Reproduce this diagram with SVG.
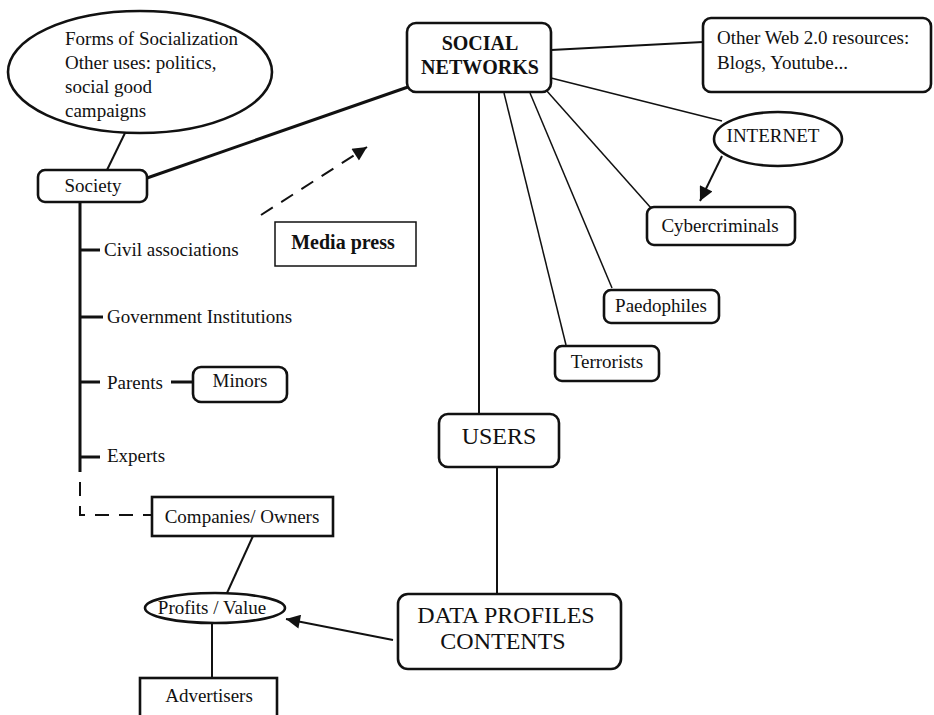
<svg xmlns="http://www.w3.org/2000/svg" width="934" height="715" viewBox="0 0 934 715">
<defs>
<style>
text{font-family:"Liberation Serif","Times New Roman",serif;font-size:19px;fill:#111}
.b{font-weight:bold;font-size:20px}
.big{font-size:24px}
.node{fill:#fff;stroke:#111;stroke-width:2.6}
.thin{fill:#fff;stroke:#111;stroke-width:1.5}
.ln{stroke:#111;stroke-width:2;fill:none}
.lt{stroke:#111;stroke-width:1.5;fill:none}
.lk{stroke:#111;stroke-width:3;fill:none}
.dash{stroke:#111;stroke-width:2;fill:none;stroke-dasharray:14 10}
</style>
<marker id="ah" viewBox="0 0 10 10" refX="10" refY="5" markerUnits="userSpaceOnUse" markerWidth="18" markerHeight="14" orient="auto">
<path d="M0,0 L10,5 L0,10 z" fill="#111"/>
</marker>
</defs>
<g id="connectors">
<line class="ln" x1="125" y1="133" x2="107" y2="170"/>
<line class="lk" x1="147" y1="178" x2="408" y2="87"/>
<line class="dash" x1="261" y1="215" x2="367" y2="147" marker-end="url(#ah)"/>
<line class="ln" x1="551" y1="50" x2="703" y2="42"/>
<line class="lt" x1="551" y1="78" x2="722" y2="121"/>
<line class="ln" x1="722" y1="156" x2="700" y2="201" marker-end="url(#ah)"/>
<line class="lt" x1="546" y1="90" x2="651" y2="208"/>
<line class="lt" x1="530" y1="93" x2="612" y2="288"/>
<line class="lt" x1="504" y1="93" x2="566" y2="345"/>
<line class="ln" x1="479" y1="93" x2="479" y2="414"/>
<line class="ln" x1="497" y1="467" x2="497" y2="594"/>
<line class="ln" x1="393" y1="640" x2="286" y2="619" marker-end="url(#ah)"/>
<line class="lk" x1="80" y1="202" x2="80" y2="472"/>
<path class="dash" d="M80,472 V515 H152" stroke-dasharray="14 10" stroke-dashoffset="-10"/>
<line class="lk" x1="80" y1="250" x2="100" y2="250"/>
<line class="lk" x1="80" y1="317" x2="103" y2="317"/>
<line class="lk" x1="80" y1="382" x2="100" y2="382"/>
<line class="lk" x1="171" y1="382" x2="193" y2="382"/>
<line class="lk" x1="80" y1="457" x2="100" y2="457"/>
<line class="ln" x1="253" y1="536" x2="227" y2="593"/>
<line class="ln" x1="212" y1="623" x2="212" y2="678"/>
</g>
<g id="forms">
<ellipse class="node" cx="140" cy="72" rx="132" ry="61"/>
<text x="65" y="45">Forms of Socialization</text>
<text x="65" y="69">Other uses: politics,</text>
<text x="65" y="93">social good</text>
<text x="65" y="117">campaigns</text>
</g>
<g id="society">
<rect class="node" x="38" y="170" width="109" height="32" rx="7"/>
<text x="93" y="192" text-anchor="middle">Society</text>
</g>
<g id="social-networks">
<rect class="node" x="407" y="23" width="144" height="69" rx="9"/>
<text class="b" x="480" y="50" text-anchor="middle">SOCIAL</text>
<text class="b" x="480" y="74" text-anchor="middle">NETWORKS</text>
</g>
<g id="other-web">
<rect class="node" x="703" y="18" width="228" height="74" rx="8"/>
<text x="717" y="44">Other Web 2.0 resources:</text>
<text x="717" y="69">Blogs, Youtube...</text>
</g>
<g id="internet">
<ellipse class="node" cx="778" cy="139" rx="64" ry="27"/>
<text x="773" y="142" text-anchor="middle">INTERNET</text>
</g>
<g id="cybercriminals">
<rect class="node" x="647" y="207" width="148" height="38" rx="7"/>
<text x="720" y="232" text-anchor="middle">Cybercriminals</text>
</g>
<g id="paedophiles">
<rect class="node" x="604" y="290" width="115" height="33" rx="7"/>
<text x="661" y="312" text-anchor="middle">Paedophiles</text>
</g>
<g id="terrorists">
<rect class="node" x="555" y="346" width="104" height="35" rx="7"/>
<text x="607" y="368" text-anchor="middle">Terrorists</text>
</g>
<g id="media-press">
<rect class="thin" x="275" y="222" width="141" height="44"/>
<text class="b" x="343" y="249" text-anchor="middle">Media press</text>
</g>
<g id="civil">
<text x="104" y="256">Civil associations</text>
</g>
<g id="government">
<text x="107" y="323">Government Institutions</text>
</g>
<g id="parents">
<text x="107" y="389">Parents</text>
</g>
<g id="minors">
<rect class="node" x="193" y="367" width="94" height="35" rx="8"/>
<text x="240" y="387" text-anchor="middle">Minors</text>
</g>
<g id="experts">
<text x="107" y="462">Experts</text>
</g>
<g id="users">
<rect class="node" x="439" y="414" width="120" height="53" rx="9"/>
<text class="big" x="499" y="444" text-anchor="middle">USERS</text>
</g>
<g id="data">
<rect class="node" x="398" y="594" width="223" height="75" rx="10"/>
<text class="big" x="506" y="623" text-anchor="middle">DATA PROFILES</text>
<text class="big" x="503" y="649" text-anchor="middle">CONTENTS</text>
</g>
<g id="companies">
<rect class="node" x="152" y="497" width="181" height="39"/>
<text x="242" y="523" text-anchor="middle">Companies/ Owners</text>
</g>
<g id="profits">
<ellipse class="node" cx="215" cy="608" rx="70" ry="15"/>
<text x="212" y="614" text-anchor="middle">Profits / Value</text>
</g>
<g id="advertisers">
<rect class="node" x="140" y="678" width="137" height="45"/>
<text x="209" y="702" text-anchor="middle">Advertisers</text>
</g>
</svg>
